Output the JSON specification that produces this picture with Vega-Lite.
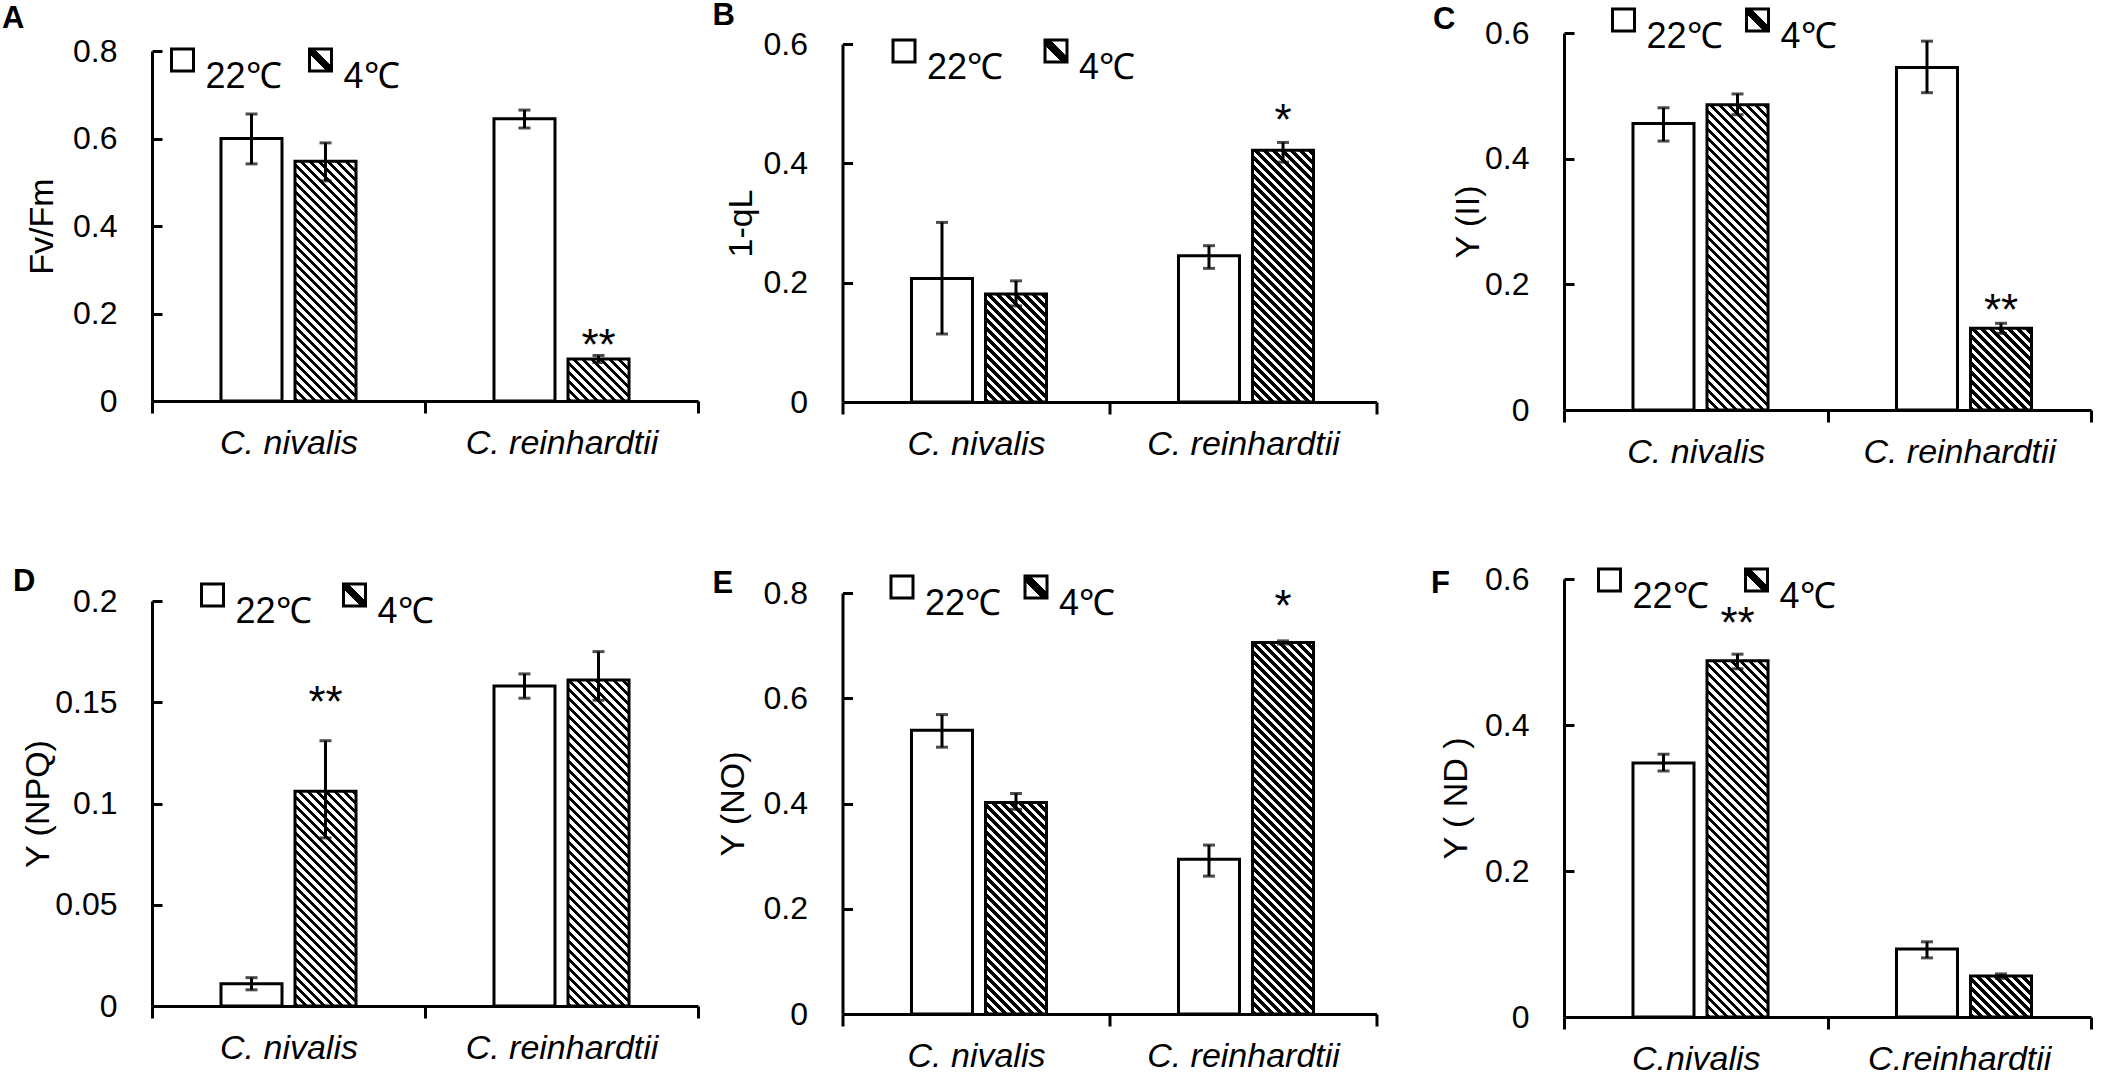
{
  "$schema": "https://vega.github.io/schema/vega-lite/v6.json",
  "background": "white",
  "padding": {"left": 2, "top": 0, "right": 0, "bottom": 0},
  "autosize": {"type": "pad"},
  "params": [
    {"name": "legGrad", "value": {"gradient": "linear", "x1": 0, "y1": 1, "x2": 1, "y2": 0, "stops": [{"offset": 0, "color": "#fff"}, {"offset": 0.38, "color": "#fff"}, {"offset": 0.38, "color": "#000"}, {"offset": 0.62, "color": "#000"}, {"offset": 0.62, "color": "#fff"}, {"offset": 1, "color": "#fff"}]}},
    {"name": "hatch", "value": [
      {"offset":0,"color":"#fff"},{"offset":0,"color":"#000"},{"offset":0.01,"color":"#000"},{"offset":0.01,"color":"#fff"},
      {"offset":0.02,"color":"#fff"},{"offset":0.02,"color":"#000"},{"offset":0.03,"color":"#000"},{"offset":0.03,"color":"#fff"},
      {"offset":0.04,"color":"#fff"},{"offset":0.04,"color":"#000"},{"offset":0.05,"color":"#000"},{"offset":0.05,"color":"#fff"},
      {"offset":0.06,"color":"#fff"},{"offset":0.06,"color":"#000"},{"offset":0.07,"color":"#000"},{"offset":0.07,"color":"#fff"},
      {"offset":0.08,"color":"#fff"},{"offset":0.08,"color":"#000"},{"offset":0.09,"color":"#000"},{"offset":0.09,"color":"#fff"},
      {"offset":0.1,"color":"#fff"},{"offset":0.1,"color":"#000"},{"offset":0.11,"color":"#000"},{"offset":0.11,"color":"#fff"},
      {"offset":0.12,"color":"#fff"},{"offset":0.12,"color":"#000"},{"offset":0.13,"color":"#000"},{"offset":0.13,"color":"#fff"},
      {"offset":0.14,"color":"#fff"},{"offset":0.14,"color":"#000"},{"offset":0.15,"color":"#000"},{"offset":0.15,"color":"#fff"},
      {"offset":0.16,"color":"#fff"},{"offset":0.16,"color":"#000"},{"offset":0.17,"color":"#000"},{"offset":0.17,"color":"#fff"},
      {"offset":0.18,"color":"#fff"},{"offset":0.18,"color":"#000"},{"offset":0.19,"color":"#000"},{"offset":0.19,"color":"#fff"},
      {"offset":0.2,"color":"#fff"},{"offset":0.2,"color":"#000"},{"offset":0.21,"color":"#000"},{"offset":0.21,"color":"#fff"},
      {"offset":0.22,"color":"#fff"},{"offset":0.22,"color":"#000"},{"offset":0.23,"color":"#000"},{"offset":0.23,"color":"#fff"},
      {"offset":0.24,"color":"#fff"},{"offset":0.24,"color":"#000"},{"offset":0.25,"color":"#000"},{"offset":0.25,"color":"#fff"},
      {"offset":0.26,"color":"#fff"},{"offset":0.26,"color":"#000"},{"offset":0.27,"color":"#000"},{"offset":0.27,"color":"#fff"},
      {"offset":0.28,"color":"#fff"},{"offset":0.28,"color":"#000"},{"offset":0.29,"color":"#000"},{"offset":0.29,"color":"#fff"},
      {"offset":0.3,"color":"#fff"},{"offset":0.3,"color":"#000"},{"offset":0.31,"color":"#000"},{"offset":0.31,"color":"#fff"},
      {"offset":0.32,"color":"#fff"},{"offset":0.32,"color":"#000"},{"offset":0.33,"color":"#000"},{"offset":0.33,"color":"#fff"},
      {"offset":0.34,"color":"#fff"},{"offset":0.34,"color":"#000"},{"offset":0.35,"color":"#000"},{"offset":0.35,"color":"#fff"},
      {"offset":0.36,"color":"#fff"},{"offset":0.36,"color":"#000"},{"offset":0.37,"color":"#000"},{"offset":0.37,"color":"#fff"},
      {"offset":0.38,"color":"#fff"},{"offset":0.38,"color":"#000"},{"offset":0.39,"color":"#000"},{"offset":0.39,"color":"#fff"},
      {"offset":0.4,"color":"#fff"},{"offset":0.4,"color":"#000"},{"offset":0.41,"color":"#000"},{"offset":0.41,"color":"#fff"},
      {"offset":0.42,"color":"#fff"},{"offset":0.42,"color":"#000"},{"offset":0.43,"color":"#000"},{"offset":0.43,"color":"#fff"},
      {"offset":0.44,"color":"#fff"},{"offset":0.44,"color":"#000"},{"offset":0.45,"color":"#000"},{"offset":0.45,"color":"#fff"},
      {"offset":0.46,"color":"#fff"},{"offset":0.46,"color":"#000"},{"offset":0.47,"color":"#000"},{"offset":0.47,"color":"#fff"},
      {"offset":0.48,"color":"#fff"},{"offset":0.48,"color":"#000"},{"offset":0.49,"color":"#000"},{"offset":0.49,"color":"#fff"},
      {"offset":0.5,"color":"#fff"},{"offset":0.5,"color":"#000"},{"offset":0.51,"color":"#000"},{"offset":0.51,"color":"#fff"},
      {"offset":0.52,"color":"#fff"},{"offset":0.52,"color":"#000"},{"offset":0.53,"color":"#000"},{"offset":0.53,"color":"#fff"},
      {"offset":0.54,"color":"#fff"},{"offset":0.54,"color":"#000"},{"offset":0.55,"color":"#000"},{"offset":0.55,"color":"#fff"},
      {"offset":0.56,"color":"#fff"},{"offset":0.56,"color":"#000"},{"offset":0.57,"color":"#000"},{"offset":0.57,"color":"#fff"},
      {"offset":0.58,"color":"#fff"},{"offset":0.58,"color":"#000"},{"offset":0.59,"color":"#000"},{"offset":0.59,"color":"#fff"},
      {"offset":0.6,"color":"#fff"},{"offset":0.6,"color":"#000"},{"offset":0.61,"color":"#000"},{"offset":0.61,"color":"#fff"},
      {"offset":0.62,"color":"#fff"},{"offset":0.62,"color":"#000"},{"offset":0.63,"color":"#000"},{"offset":0.63,"color":"#fff"},
      {"offset":0.64,"color":"#fff"},{"offset":0.64,"color":"#000"},{"offset":0.65,"color":"#000"},{"offset":0.65,"color":"#fff"},
      {"offset":0.66,"color":"#fff"},{"offset":0.66,"color":"#000"},{"offset":0.67,"color":"#000"},{"offset":0.67,"color":"#fff"},
      {"offset":0.68,"color":"#fff"},{"offset":0.68,"color":"#000"},{"offset":0.69,"color":"#000"},{"offset":0.69,"color":"#fff"},
      {"offset":0.7,"color":"#fff"},{"offset":0.7,"color":"#000"},{"offset":0.71,"color":"#000"},{"offset":0.71,"color":"#fff"},
      {"offset":0.72,"color":"#fff"},{"offset":0.72,"color":"#000"},{"offset":0.73,"color":"#000"},{"offset":0.73,"color":"#fff"},
      {"offset":0.74,"color":"#fff"},{"offset":0.74,"color":"#000"},{"offset":0.75,"color":"#000"},{"offset":0.75,"color":"#fff"},
      {"offset":0.76,"color":"#fff"},{"offset":0.76,"color":"#000"},{"offset":0.77,"color":"#000"},{"offset":0.77,"color":"#fff"},
      {"offset":0.78,"color":"#fff"},{"offset":0.78,"color":"#000"},{"offset":0.79,"color":"#000"},{"offset":0.79,"color":"#fff"},
      {"offset":0.8,"color":"#fff"},{"offset":0.8,"color":"#000"},{"offset":0.81,"color":"#000"},{"offset":0.81,"color":"#fff"},
      {"offset":0.82,"color":"#fff"},{"offset":0.82,"color":"#000"},{"offset":0.83,"color":"#000"},{"offset":0.83,"color":"#fff"},
      {"offset":0.84,"color":"#fff"},{"offset":0.84,"color":"#000"},{"offset":0.85,"color":"#000"},{"offset":0.85,"color":"#fff"},
      {"offset":0.86,"color":"#fff"},{"offset":0.86,"color":"#000"},{"offset":0.87,"color":"#000"},{"offset":0.87,"color":"#fff"},
      {"offset":0.88,"color":"#fff"},{"offset":0.88,"color":"#000"},{"offset":0.89,"color":"#000"},{"offset":0.89,"color":"#fff"},
      {"offset":0.9,"color":"#fff"},{"offset":0.9,"color":"#000"},{"offset":0.91,"color":"#000"},{"offset":0.91,"color":"#fff"},
      {"offset":0.92,"color":"#fff"},{"offset":0.92,"color":"#000"},{"offset":0.93,"color":"#000"},{"offset":0.93,"color":"#fff"},
      {"offset":0.94,"color":"#fff"},{"offset":0.94,"color":"#000"},{"offset":0.95,"color":"#000"},{"offset":0.95,"color":"#fff"},
      {"offset":0.96,"color":"#fff"},{"offset":0.96,"color":"#000"},{"offset":0.97,"color":"#000"},{"offset":0.97,"color":"#fff"},
      {"offset":0.98,"color":"#fff"},{"offset":0.98,"color":"#000"},{"offset":0.99,"color":"#000"},{"offset":0.99,"color":"#fff"},
      {"offset":1,"color":"#fff"}
    ]}
  ],
  "datasets": {
    "d": [
      {"p": "A", "sp": "C. nivalis", "t": "22℃", "v": 0.600, "lo": 0.542, "hi": 0.656, "sig": ""},
      {"p": "A", "sp": "C. nivalis", "t": "4℃", "v": 0.548, "lo": 0.503, "hi": 0.590, "sig": ""},
      {"p": "A", "sp": "C. reinhardtii", "t": "22℃", "v": 0.645, "lo": 0.624, "hi": 0.665, "sig": ""},
      {"p": "A", "sp": "C. reinhardtii", "t": "4℃", "v": 0.096, "lo": 0.088, "hi": 0.104, "sig": "**"},
      {"p": "B", "sp": "C. nivalis", "t": "22℃", "v": 0.207, "lo": 0.114, "hi": 0.301, "sig": ""},
      {"p": "B", "sp": "C. nivalis", "t": "4℃", "v": 0.181, "lo": 0.161, "hi": 0.203, "sig": ""},
      {"p": "B", "sp": "C. reinhardtii", "t": "22℃", "v": 0.245, "lo": 0.224, "hi": 0.262, "sig": ""},
      {"p": "B", "sp": "C. reinhardtii", "t": "4℃", "v": 0.422, "lo": 0.402, "hi": 0.435, "sig": "*"},
      {"p": "C", "sp": "C. nivalis", "t": "22℃", "v": 0.456, "lo": 0.428, "hi": 0.481, "sig": ""},
      {"p": "C", "sp": "C. nivalis", "t": "4℃", "v": 0.486, "lo": 0.470, "hi": 0.503, "sig": ""},
      {"p": "C", "sp": "C. reinhardtii", "t": "22℃", "v": 0.545, "lo": 0.505, "hi": 0.587, "sig": ""},
      {"p": "C", "sp": "C. reinhardtii", "t": "4℃", "v": 0.130, "lo": 0.122, "hi": 0.138, "sig": "**"},
      {"p": "D", "sp": "C. nivalis", "t": "22℃", "v": 0.011, "lo": 0.008, "hi": 0.014, "sig": ""},
      {"p": "D", "sp": "C. nivalis", "t": "4℃", "v": 0.106, "lo": 0.083, "hi": 0.131, "sig": "**"},
      {"p": "D", "sp": "C. reinhardtii", "t": "22℃", "v": 0.158, "lo": 0.152, "hi": 0.164, "sig": ""},
      {"p": "D", "sp": "C. reinhardtii", "t": "4℃", "v": 0.161, "lo": 0.151, "hi": 0.175, "sig": ""},
      {"p": "E", "sp": "C. nivalis", "t": "22℃", "v": 0.539, "lo": 0.507, "hi": 0.569, "sig": ""},
      {"p": "E", "sp": "C. nivalis", "t": "4℃", "v": 0.402, "lo": 0.389, "hi": 0.419, "sig": ""},
      {"p": "E", "sp": "C. reinhardtii", "t": "22℃", "v": 0.294, "lo": 0.262, "hi": 0.321, "sig": ""},
      {"p": "E", "sp": "C. reinhardtii", "t": "4℃", "v": 0.706, "lo": 0.703, "hi": 0.709, "sig": "*"},
      {"p": "F", "sp": "C.nivalis", "t": "22℃", "v": 0.348, "lo": 0.337, "hi": 0.360, "sig": ""},
      {"p": "F", "sp": "C.nivalis", "t": "4℃", "v": 0.488, "lo": 0.477, "hi": 0.497, "sig": "**"},
      {"p": "F", "sp": "C.reinhardtii", "t": "22℃", "v": 0.093, "lo": 0.081, "hi": 0.103, "sig": ""},
      {"p": "F", "sp": "C.reinhardtii", "t": "4℃", "v": 0.056, "lo": 0.053, "hi": 0.059, "sig": ""}
    ]
  },
  "bounds": "full",
  "spacing": 12.5,
  "resolve": {"scale": {"fill": "independent"}, "legend": {"fill": "independent"}},
  "hconcat": [
    {
      "bounds": "flush",
      "spacing": 0,
      "resolve": {"scale": {"fill": "independent"}, "legend": {"fill": "independent"}},
      "vconcat": [
        {"data": {"values": []}, "mark": "point", "width": 10, "height": 18},
        {
          "bounds": "flush",
          "spacing": 200,
          "resolve": {"scale": {"fill": "independent"}, "legend": {"fill": "independent"}},
          "vconcat": [
            {
              "title": {"text": "A", "anchor": "start", "frame": "group", "dx": -150, "dy": 24, "offset": 0, "baseline": "alphabetic", "fontSize": 31, "fontWeight": "bold", "font": "Liberation Sans", "color": "black"},
              "width": 546, "height": 350,
              "data": {"name": "d"},
              "transform": [{"filter": "datum.p === 'A'"}],
              "encoding": {
                "x": {"field": "sp", "type": "nominal", "title": null, "scale": {"paddingInner": 0, "paddingOuter": 0}},
                "xOffset": {"field": "t", "type": "nominal", "scale": {"paddingInner": 0.1757, "paddingOuter": 0.932}}
              },
              "layer": [
                {
                  "mark": {"type": "bar", "stroke": "black", "strokeWidth": 3},
                  "encoding": {
                    "y": {"field": "v", "type": "quantitative", "title": "Fv/Fm", "scale": {"domain": [0, 0.8], "nice": false}, "axis": {"values": [0, 0.2, 0.4, 0.6, 0.8], "titleX": -110}},
                    "fill": {"field": "t", "type": "nominal", "scale": {"domain": ["22℃", "4℃"], "range": ["#fff", {"expr": "legGrad"}]},
                      "legend": {"legendX": 12.5, "legendY": -9, "columnPadding": 20},
                      "condition": {"test": "datum.t === '4℃'", "value": {"expr": "{'gradient':'linear','x1':0,'y1':1,'x2':27450/(3721+pow(datum.v*437.5,2)),'y2':1-datum.v*437.5*450/(3721+pow(datum.v*437.5,2)),'stops':hatch}"}}}
                  }
                },
                {"mark": {"type": "rule", "strokeWidth": 3, "color": "black"}, "encoding": {"y": {"field": "lo", "type": "quantitative", "title": "Fv/Fm"}, "y2": {"field": "hi"}}},
                {"mark": {"type": "tick", "size": 12, "thickness": 3, "color": "black"}, "encoding": {"y": {"field": "lo", "type": "quantitative", "title": "Fv/Fm"}}},
                {"mark": {"type": "tick", "size": 12, "thickness": 3, "color": "black"}, "encoding": {"y": {"field": "hi", "type": "quantitative", "title": "Fv/Fm"}}},
                {"transform": [{"filter": "datum.sig !== ''"}], "mark": {"type": "text", "fontSize": 44, "dy": 4, "baseline": "alphabetic", "font": "Liberation Sans", "color": "black"}, "encoding": {"y": {"field": "hi", "type": "quantitative", "title": "Fv/Fm"}, "text": {"field": "sig"}}}
              ]
            },
            {
              "title": {"text": "D", "anchor": "start", "frame": "group", "dx": -139, "dy": 45, "offset": 0, "baseline": "alphabetic", "fontSize": 31, "fontWeight": "bold", "font": "Liberation Sans", "color": "black"},
              "width": 546, "height": 405,
              "data": {"name": "d"},
              "transform": [{"filter": "datum.p === 'D'"}],
              "encoding": {
                "x": {"field": "sp", "type": "nominal", "title": null, "scale": {"paddingInner": 0, "paddingOuter": 0}},
                "xOffset": {"field": "t", "type": "nominal", "scale": {"paddingInner": 0.1757, "paddingOuter": 0.932}}
              },
              "layer": [
                {
                  "mark": {"type": "bar", "stroke": "black", "strokeWidth": 3},
                  "encoding": {
                    "y": {"field": "v", "type": "quantitative", "title": "Y (NPQ)", "scale": {"domain": [0, 0.2], "nice": false}, "axis": {"values": [0, 0.05, 0.1, 0.15, 0.2], "titleX": -114}},
                    "fill": {"field": "t", "type": "nominal", "scale": {"domain": ["22℃", "4℃"], "range": ["#fff", {"expr": "legGrad"}]},
                      "legend": {"legendX": 42.5, "legendY": -24, "columnPadding": 24},
                      "condition": {"test": "datum.t === '4℃'", "value": {"expr": "{'gradient':'linear','x1':0,'y1':1,'x2':27450/(3721+pow(datum.v*2025,2)),'y2':1-datum.v*2025*450/(3721+pow(datum.v*2025,2)),'stops':hatch}"}}}
                  }
                },
                {"mark": {"type": "rule", "strokeWidth": 3, "color": "black"}, "encoding": {"y": {"field": "lo", "type": "quantitative", "title": "Y (NPQ)"}, "y2": {"field": "hi"}}},
                {"mark": {"type": "tick", "size": 12, "thickness": 3, "color": "black"}, "encoding": {"y": {"field": "lo", "type": "quantitative", "title": "Y (NPQ)"}}},
                {"mark": {"type": "tick", "size": 12, "thickness": 3, "color": "black"}, "encoding": {"y": {"field": "hi", "type": "quantitative", "title": "Y (NPQ)"}}},
                {"transform": [{"filter": "datum.sig !== ''"}], "mark": {"type": "text", "fontSize": 44, "dy": -24, "baseline": "alphabetic", "font": "Liberation Sans", "color": "black"}, "encoding": {"y": {"field": "hi", "type": "quantitative", "title": "Y (NPQ)"}, "text": {"field": "sig"}}}
              ]
            }
          ]
        }
      ]
    },
    {
      "bounds": "full",
      "spacing": 52.5,
      "resolve": {"scale": {"fill": "independent"}, "legend": {"fill": "independent"}},
      "hconcat": [
        {
          "bounds": "flush",
          "spacing": 0,
          "resolve": {"scale": {"fill": "independent"}, "legend": {"fill": "independent"}},
          "vconcat": [
            {"data": {"values": []}, "mark": "point", "width": 10, "height": 11},
            {
              "bounds": "flush",
              "spacing": 191,
              "resolve": {"scale": {"fill": "independent"}, "legend": {"fill": "independent"}},
              "vconcat": [
                {
                  "title": {"text": "B", "anchor": "start", "frame": "group", "dx": -130, "dy": 28, "offset": 0, "baseline": "alphabetic", "fontSize": 31, "fontWeight": "bold", "font": "Liberation Sans", "color": "black"},
                  "width": 534, "height": 358,
                  "data": {"name": "d"},
                  "transform": [{"filter": "datum.p === 'B'"}],
                  "encoding": {
                    "x": {"field": "sp", "type": "nominal", "title": null, "scale": {"paddingInner": 0, "paddingOuter": 0}},
                    "xOffset": {"field": "t", "type": "nominal", "scale": {"paddingInner": 0.1757, "paddingOuter": 0.892}}
                  },
                  "layer": [
                    {
                      "mark": {"type": "bar", "stroke": "black", "strokeWidth": 3},
                      "encoding": {
                        "y": {"field": "v", "type": "quantitative", "title": "1-qL", "scale": {"domain": [0, 0.6], "nice": false}, "axis": {"values": [0, 0.2, 0.4, 0.6], "titleX": -101}},
                        "fill": {"field": "t", "type": "nominal", "scale": {"domain": ["22℃", "4℃"], "range": ["#fff", {"expr": "legGrad"}]},
                          "legend": {"legendX": 43.5, "legendY": -11, "columnPadding": 34},
                          "condition": {"test": "datum.t === '4℃'", "value": {"expr": "{'gradient':'linear','x1':0,'y1':1,'x2':27450/(3721+pow(datum.v*596.67,2)),'y2':1-datum.v*596.67*450/(3721+pow(datum.v*596.67,2)),'stops':hatch}"}}}
                      }
                    },
                    {"mark": {"type": "rule", "strokeWidth": 3, "color": "black"}, "encoding": {"y": {"field": "lo", "type": "quantitative", "title": "1-qL"}, "y2": {"field": "hi"}}},
                    {"mark": {"type": "tick", "size": 12, "thickness": 3, "color": "black"}, "encoding": {"y": {"field": "lo", "type": "quantitative", "title": "1-qL"}}},
                    {"mark": {"type": "tick", "size": 12, "thickness": 3, "color": "black"}, "encoding": {"y": {"field": "hi", "type": "quantitative", "title": "1-qL"}}},
                    {"transform": [{"filter": "datum.sig !== ''"}], "mark": {"type": "text", "fontSize": 44, "dy": -7, "baseline": "alphabetic", "font": "Liberation Sans", "color": "black"}, "encoding": {"y": {"field": "hi", "type": "quantitative", "title": "1-qL"}, "text": {"field": "sig"}}}
                  ]
                },
                {
                  "title": {"text": "E", "anchor": "start", "frame": "group", "dx": -130, "dy": 55, "offset": 0, "baseline": "alphabetic", "fontSize": 31, "fontWeight": "bold", "font": "Liberation Sans", "color": "black"},
                  "width": 534, "height": 421,
                  "data": {"name": "d"},
                  "transform": [{"filter": "datum.p === 'E'"}],
                  "encoding": {
                    "x": {"field": "sp", "type": "nominal", "title": null, "scale": {"paddingInner": 0, "paddingOuter": 0}},
                    "xOffset": {"field": "t", "type": "nominal", "scale": {"paddingInner": 0.1757, "paddingOuter": 0.892}}
                  },
                  "layer": [
                    {
                      "mark": {"type": "bar", "stroke": "black", "strokeWidth": 3},
                      "encoding": {
                        "y": {"field": "v", "type": "quantitative", "title": "Y (NO)", "scale": {"domain": [0, 0.8], "nice": false}, "axis": {"values": [0, 0.2, 0.4, 0.6, 0.8], "titleX": -109}},
                        "fill": {"field": "t", "type": "nominal", "scale": {"domain": ["22℃", "4℃"], "range": ["#fff", {"expr": "legGrad"}]},
                          "legend": {"legendX": 41.5, "legendY": -24, "columnPadding": 16},
                          "condition": {"test": "datum.t === '4℃'", "value": {"expr": "{'gradient':'linear','x1':0,'y1':1,'x2':27450/(3721+pow(datum.v*526.25,2)),'y2':1-datum.v*526.25*450/(3721+pow(datum.v*526.25,2)),'stops':hatch}"}}}
                      }
                    },
                    {"mark": {"type": "rule", "strokeWidth": 3, "color": "black"}, "encoding": {"y": {"field": "lo", "type": "quantitative", "title": "Y (NO)"}, "y2": {"field": "hi"}}},
                    {"mark": {"type": "tick", "size": 12, "thickness": 3, "color": "black"}, "encoding": {"y": {"field": "lo", "type": "quantitative", "title": "Y (NO)"}}},
                    {"mark": {"type": "tick", "size": 12, "thickness": 3, "color": "black"}, "encoding": {"y": {"field": "hi", "type": "quantitative", "title": "Y (NO)"}}},
                    {"transform": [{"filter": "datum.sig !== ''"}], "mark": {"type": "text", "fontSize": 44, "dy": -20, "baseline": "alphabetic", "font": "Liberation Sans", "color": "black"}, "encoding": {"y": {"field": "hi", "type": "quantitative", "title": "Y (NO)"}, "text": {"field": "sig"}}}
                  ]
                }
              ]
            }
          ]
        },
        {
          "bounds": "flush",
          "spacing": 169,
          "resolve": {"scale": {"fill": "independent"}, "legend": {"fill": "independent"}},
          "vconcat": [
            {
              "title": {"text": "C", "anchor": "start", "frame": "group", "dx": -131, "dy": 58, "offset": 0, "baseline": "alphabetic", "fontSize": 31, "fontWeight": "bold", "font": "Liberation Sans", "color": "black"},
              "width": 527, "height": 377,
              "data": {"name": "d"},
              "transform": [{"filter": "datum.p === 'C'"}],
              "encoding": {
                "x": {"field": "sp", "type": "nominal", "title": null, "scale": {"paddingInner": 0, "paddingOuter": 0}},
                "xOffset": {"field": "t", "type": "nominal", "scale": {"paddingInner": 0.1757, "paddingOuter": 0.868}}
              },
              "layer": [
                {
                  "mark": {"type": "bar", "stroke": "black", "strokeWidth": 3},
                  "encoding": {
                    "y": {"field": "v", "type": "quantitative", "title": "Y (II)", "scale": {"domain": [0, 0.6], "nice": false}, "axis": {"values": [0, 0.2, 0.4, 0.6], "titleX": -96}},
                    "fill": {"field": "t", "type": "nominal", "scale": {"domain": ["22℃", "4℃"], "range": ["#fff", {"expr": "legGrad"}]},
                      "legend": {"legendX": 41.5, "legendY": -31, "columnPadding": 16},
                      "condition": {"test": "datum.t === '4℃'", "value": {"expr": "{'gradient':'linear','x1':0,'y1':1,'x2':27450/(3721+pow(datum.v*628.33,2)),'y2':1-datum.v*628.33*450/(3721+pow(datum.v*628.33,2)),'stops':hatch}"}}}
                  }
                },
                {"mark": {"type": "rule", "strokeWidth": 3, "color": "black"}, "encoding": {"y": {"field": "lo", "type": "quantitative", "title": "Y (II)"}, "y2": {"field": "hi"}}},
                {"mark": {"type": "tick", "size": 12, "thickness": 3, "color": "black"}, "encoding": {"y": {"field": "lo", "type": "quantitative", "title": "Y (II)"}}},
                {"mark": {"type": "tick", "size": 12, "thickness": 3, "color": "black"}, "encoding": {"y": {"field": "hi", "type": "quantitative", "title": "Y (II)"}}},
                {"transform": [{"filter": "datum.sig !== ''"}], "mark": {"type": "text", "fontSize": 44, "dy": 2, "baseline": "alphabetic", "font": "Liberation Sans", "color": "black"}, "encoding": {"y": {"field": "hi", "type": "quantitative", "title": "Y (II)"}, "text": {"field": "sig"}}}
              ]
            },
            {
              "title": {"text": "F", "anchor": "start", "frame": "group", "dx": -133, "dy": 62, "offset": 0, "baseline": "alphabetic", "fontSize": 31, "fontWeight": "bold", "font": "Liberation Sans", "color": "black"},
              "width": 527, "height": 438,
              "data": {"name": "d"},
              "transform": [{"filter": "datum.p === 'F'"}],
              "encoding": {
                "x": {"field": "sp", "type": "nominal", "title": null, "scale": {"paddingInner": 0, "paddingOuter": 0}},
                "xOffset": {"field": "t", "type": "nominal", "scale": {"paddingInner": 0.1757, "paddingOuter": 0.868}}
              },
              "layer": [
                {
                  "mark": {"type": "bar", "stroke": "black", "strokeWidth": 3},
                  "encoding": {
                    "y": {"field": "v", "type": "quantitative", "title": "Y ( ND )", "scale": {"domain": [0, 0.6], "nice": false}, "axis": {"values": [0, 0.2, 0.4, 0.6], "titleX": -108}},
                    "fill": {"field": "t", "type": "nominal", "scale": {"domain": ["22℃", "4℃"], "range": ["#fff", {"expr": "legGrad"}]},
                      "legend": {"legendX": 27.5, "legendY": -17, "columnPadding": 29},
                      "condition": {"test": "datum.t === '4℃'", "value": {"expr": "{'gradient':'linear','x1':0,'y1':1,'x2':27450/(3721+pow(datum.v*730,2)),'y2':1-datum.v*730*450/(3721+pow(datum.v*730,2)),'stops':hatch}"}}}
                  }
                },
                {"mark": {"type": "rule", "strokeWidth": 3, "color": "black"}, "encoding": {"y": {"field": "lo", "type": "quantitative", "title": "Y ( ND )"}, "y2": {"field": "hi"}}},
                {"mark": {"type": "tick", "size": 12, "thickness": 3, "color": "black"}, "encoding": {"y": {"field": "lo", "type": "quantitative", "title": "Y ( ND )"}}},
                {"mark": {"type": "tick", "size": 12, "thickness": 3, "color": "black"}, "encoding": {"y": {"field": "hi", "type": "quantitative", "title": "Y ( ND )"}}},
                {"transform": [{"filter": "datum.sig !== ''"}], "mark": {"type": "text", "fontSize": 44, "dy": -16, "baseline": "alphabetic", "font": "Liberation Sans", "color": "black"}, "encoding": {"y": {"field": "hi", "type": "quantitative", "title": "Y ( ND )"}, "text": {"field": "sig"}}}
              ]
            }
          ]
        }
      ]
    }
  ],
  "config": {
    "view": {"stroke": null},
    "font": "Liberation Sans",
    "axis": {"grid": false, "domainColor": "black", "domainWidth": 3, "tickColor": "black", "tickWidth": 3, "labelColor": "black", "titleColor": "black", "labelFont": "Liberation Sans", "titleFont": "Liberation Sans", "titleFontWeight": "normal"},
    "axisY": {"tickSize": -10, "labelPadding": 45, "labelFontSize": 32, "titleFontSize": 34, "format": "~g", "titleBaseline": "middle"},
    "axisX": {"tickSize": 12, "tickBand": "extent", "labelFontSize": 34, "labelFontStyle": "italic", "labelPadding": 13, "labelAngle": 0, "labelLimit": 0},
    "legend": {"orient": "none", "direction": "horizontal", "title": null, "symbolType": "square", "symbolSize": 484, "symbolStrokeColor": "black", "symbolStrokeWidth": 3, "labelFontSize": 36, "labelColor": "black", "labelFont": "Liberation Sans", "labelOffset": 5, "labelBaseline": "top", "padding": 0}
  }
}
